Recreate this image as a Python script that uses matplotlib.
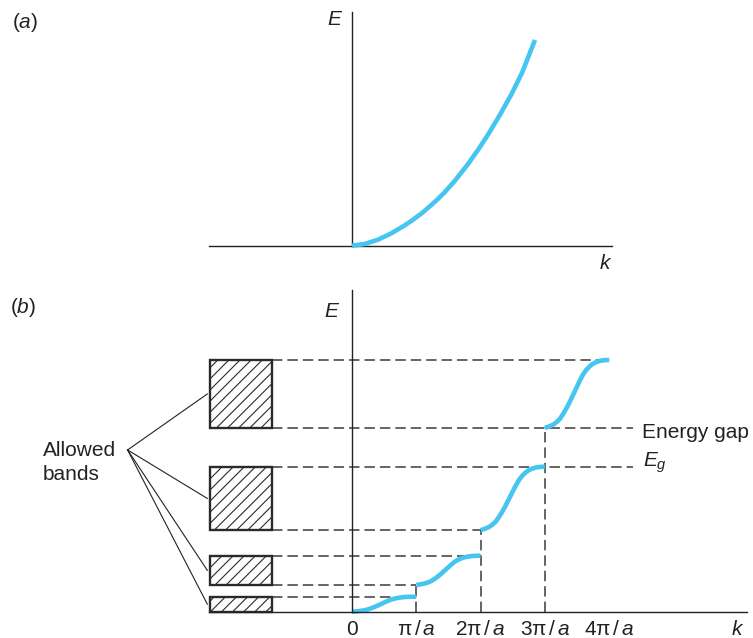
import matplotlib
matplotlib.use("Agg")
import matplotlib.pyplot as plt
from matplotlib.patches import Rectangle

plt.rcParams['font.family'] = ['Liberation Sans', 'DejaVu Sans']
plt.rcParams['mathtext.fontset'] = 'custom'
plt.rcParams['mathtext.rm'] = 'Liberation Sans'
plt.rcParams['mathtext.it'] = 'Liberation Sans:italic'
plt.rcParams['mathtext.bf'] = 'Liberation Sans:bold'
plt.rcParams['hatch.linewidth'] = 0.8
plt.rcParams['lines.scale_dashes'] = False

# ---------------- data ----------------
# (a) free electron E(k) (k in units of pi/a, E arbitrary units)
k_free = [0, 0.2, 0.404, 0.6, 0.8, 0.928, 1.1, 1.3, 1.446, 1.6, 1.8, 1.964,
          2.1, 2.3, 2.484, 2.65, 2.846]
E_free = [0, 0.07, 0.24, 0.48, 0.78, 1.00, 1.33, 1.78, 2.15, 2.60, 3.25, 3.85,
          4.38, 5.23, 6.08, 6.95, 8.23]

# (b) allowed bands
band_bottom = [0.0, 1.07, 3.26, 7.35]
band_top = [0.60, 2.24, 5.80, 10.07]

# (b) E(k) segments within each Brillouin zone
k_seg1 = [0, 0.06, 0.13, 0.18, 0.23, 0.28, 0.33, 0.385, 0.44, 0.49, 0.54, 0.59,
          0.64, 0.69, 0.74, 0.80, 0.87, 0.93, 1.0]
E_seg1 = [0, 0.012, 0.030, 0.051, 0.078, 0.120, 0.168, 0.228, 0.294, 0.354,
          0.414, 0.468, 0.510, 0.540, 0.564, 0.582, 0.594, 0.598, 0.600]
k_seg2 = [1, 1.06, 1.13, 1.18, 1.23, 1.28, 1.33, 1.385, 1.44, 1.49, 1.54, 1.59,
          1.64, 1.69, 1.74, 1.80, 1.87, 1.93, 2.0]
E_seg2 = [1.07, 1.093, 1.129, 1.169, 1.222, 1.304, 1.398, 1.515, 1.643, 1.760,
          1.877, 1.983, 2.065, 2.123, 2.170, 2.205, 2.228, 2.236, 2.24]
k_seg3 = [2, 2.06, 2.13, 2.18, 2.23, 2.28, 2.33, 2.385, 2.44, 2.49, 2.54, 2.59,
          2.64, 2.69, 2.74, 2.80, 2.87, 2.93, 3.0]
E_seg3 = [3.26, 3.311, 3.387, 3.476, 3.590, 3.768, 3.971, 4.225, 4.505, 4.759,
          5.013, 5.241, 5.419, 5.546, 5.648, 5.724, 5.775, 5.792, 5.80]
k_seg4 = [3, 3.06, 3.13, 3.18, 3.23, 3.28, 3.33, 3.385, 3.44, 3.49, 3.54, 3.59,
          3.64, 3.69, 3.74, 3.80, 3.87, 3.93, 4.0]
E_seg4 = [7.35, 7.404, 7.486, 7.581, 7.704, 7.894, 8.112, 8.384, 8.683, 8.955,
          9.227, 9.472, 9.662, 9.798, 9.907, 9.988, 10.043, 10.062, 10.07]

tick_k = [0, 1, 2, 3, 4]
tick_labels = ["0", "π$\\,$/$\\,a$", "2π$\\,$/$\\,a$", "3π$\\,$/$\\,a$", "4π$\\,$/$\\,a$"]

# ---------------- style / layout ----------------
CURVE = '#45c5f0'
INK = '#222222'
DASH = '#3a3a3a'
FS = 15
BOX_L, BOX_R = -2.21, -1.25
DASH_END = 4.37
VERTEX = (-3.49, 6.47)

W, H = 753, 638
fig = plt.figure(figsize=(W / 100, H / 100), dpi=100)
split = (H - 285) / H
axb = fig.add_axes([0, 0, 1, split])
axa = fig.add_axes([0, split, 1, 1 - split])
xlim = (-352 / 64.3, (W - 352) / 64.3)
axa.set_xlim(*xlim)
axb.set_xlim(*xlim)
axa.set_ylim((245.7 - 285) / 25, 245.7 / 25)
axb.set_ylim((611.7 - H) / 25, (611.7 - 285) / 25)
for ax in (axa, axb):
    ax.axis('off')

# ---------------- panel (a) ----------------
axa.plot([-2.22, 4.04], [0, 0], color=INK, lw=1.0)
axa.plot([0, 0], [0, 9.35], color=INK, lw=1.0)
axa.plot(k_free, E_free, color=CURVE, lw=3.3, solid_capstyle='butt',
         solid_joinstyle='round', zorder=3)
axa.text(-5.29, 8.71, "($a$)", fontsize=FS, ha='left', va='baseline', color=INK)
axa.text(-0.264, 8.83, "$E$", fontsize=FS, ha='center', va='baseline', color=INK)
axa.text(3.95, -0.93, "$k$", fontsize=FS, ha='center', va='baseline', color=INK)

# ---------------- panel (b) ----------------
axb.plot([-2.22, 6.14], [0, 0], color=INK, lw=1.0, zorder=4)
axb.plot([0, 0], [0, 12.85], color=INK, lw=1.0, zorder=4)

dkw = dict(color=DASH, lw=1.1, linestyle=(0, (7.5, 3.6)), zorder=2)
# horizontal dashed from box to curve ends
axb.plot([BOX_R, 1], [band_top[0]] * 2, **dkw)
axb.plot([BOX_R, 1], [band_bottom[1]] * 2, **dkw)
axb.plot([BOX_R, 2], [band_top[1]] * 2, **dkw)
axb.plot([BOX_R, 2], [band_bottom[2]] * 2, **dkw)
axb.plot([BOX_R, DASH_END], [band_top[2]] * 2, **dkw)
axb.plot([BOX_R, DASH_END], [band_bottom[3]] * 2, **dkw)
axb.plot([BOX_R, 4], [band_top[3]] * 2, **dkw)
# vertical dashed at zone boundaries
axb.plot([1, 1], [0, band_bottom[1]], **dkw)
axb.plot([2, 2], [0, band_bottom[2]], **dkw)
axb.plot([3, 3], [0, band_bottom[3]], **dkw)

# curve segments
for ks, Es in [(k_seg1, E_seg1), (k_seg2, E_seg2), (k_seg3, E_seg3), (k_seg4, E_seg4)]:
    axb.plot(ks, Es, color=CURVE, lw=3.3, solid_capstyle='butt',
             solid_joinstyle='round', zorder=3)

# hatched band boxes and pointer lines
for eb, et in zip(band_bottom, band_top):
    axb.add_patch(Rectangle((BOX_L, eb), BOX_R - BOX_L, et - eb, fill=False,
                            hatch='///', edgecolor='#2a2a2a', lw=1.7, zorder=3))
    axb.plot([VERTEX[0], BOX_L - 0.04], [VERTEX[1], (eb + et) / 2],
             color=INK, lw=0.8, zorder=2)

axb.text(-4.81, 6.23, "Allowed", fontsize=FS, ha='left', va='baseline', color=INK)
axb.text(-4.81, 5.27, "bands", fontsize=FS, ha='left', va='baseline', color=INK)
axb.text(4.505, 6.94, "Energy gap", fontsize=FS, ha='left', va='baseline', color=INK)
axb.text(4.53, 5.80, "$E_g$", fontsize=FS, ha='left', va='baseline', color=INK)

axb.text(-5.32, 11.94, "($b$)", fontsize=FS, ha='left', va='baseline', color=INK)
axb.text(-0.316, 11.8, "$E$", fontsize=FS, ha='center', va='baseline', color=INK)
axb.text(5.995, -0.94, "$k$", fontsize=FS, ha='center', va='baseline', color=INK)
for kx, lab in zip(tick_k, tick_labels):
    axb.text(kx, -0.94, lab, fontsize=FS, ha='center', va='baseline', color=INK)

fig.savefig("out.png", dpi=100)
